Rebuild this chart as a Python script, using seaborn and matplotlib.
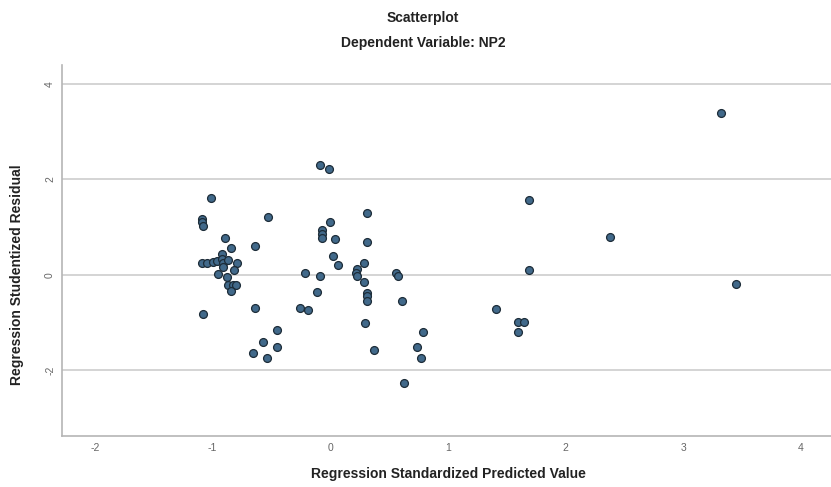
import numpy as np
import pandas as pd
import matplotlib
matplotlib.use("Agg")
import matplotlib.pyplot as plt
import seaborn as sns

# Values (standardized predicted value, studentized residual)
pred = [
    -1.01, -1.09, -1.09, -1.08, -0.89, -0.84, -0.64, -0.92, -1.09, -1.05,
    -1.00, -0.96, -0.92, -0.91, -0.91, -0.87, -0.79, -0.82, -0.95, -0.88,
    -0.87, -0.83, -0.80, -0.84, -1.08, -0.64, -0.45, -0.57, -0.45, -0.66,
    -0.54, -0.26, -0.19, -0.53, -0.21, -0.09, -0.01, 0.31, 0.00, -0.07,
    -0.07, -0.07, 0.045, 0.31, 0.02, 0.07, 0.29, 0.23, 0.22, 0.23,
    -0.085, 0.56, 0.58, 0.29, -0.11, 0.31, 0.31, 0.31, 0.61, 0.30,
    0.79, 0.37, 0.74, 0.77, 0.63, 1.69, 1.69, 1.41, 1.60, 1.65,
    1.60, 2.38, 3.32, 3.45,
]
resid = [
    1.61, 1.17, 1.10, 1.03, 0.78, 0.57, 0.61, 0.43, 0.25, 0.26,
    0.28, 0.30, 0.33, 0.25, 0.17, 0.31, 0.25, 0.10, 0.02, -0.05,
    -0.21, -0.21, -0.21, -0.33, -0.82, -0.69, -1.15, -1.41, -1.52, -1.63,
    -1.74, -0.69, -0.73, 1.21, 0.04, 2.31, 2.22, 1.29, 1.10, 0.94,
    0.86, 0.77, 0.75, 0.69, 0.40, 0.20, 0.24, 0.12, 0.05, -0.02,
    -0.02, 0.05, -0.02, -0.15, -0.36, -0.38, -0.45, -0.54, -0.54, -1.00,
    -1.19, -1.57, -1.52, -1.75, -2.27, 1.57, 0.10, -0.71, -0.99, -0.99,
    -1.19, 0.79, 3.40, -0.18,
]
y_ticks = [-2, 0, 2, 4]
x_ticks = [-2, -1, 0, 1, 2, 3, 4]

df = pd.DataFrame({"pred": pred, "resid": resid})

sns.set_style("white")
plt.rcParams["font.family"] = ["Liberation Sans", "DejaVu Sans"]
plt.rcParams["axes.unicode_minus"] = False

fig = plt.figure(figsize=(8.31, 4.87), dpi=100)
ax = fig.add_axes([0.0746, 0.1047, 0.93, 0.762])

for t in y_ticks:
    ax.axhline(t, color="#d4d4d4", lw=1.4, zorder=0)

sns.scatterplot(data=df, x="pred", y="resid", ax=ax, s=32,
                color="#41698a", edgecolor="#1c2c38", linewidth=0.9, zorder=3)

ax.set_xlim(-2.28, 4.29)
ax.set_ylim(-3.375, 4.40)
ax.set_xticks(x_ticks)
ax.set_yticks(y_ticks)
ax.tick_params(axis="both", length=0, labelsize=7.5, colors="#666666", pad=5)
for lab in ax.get_yticklabels():
    lab.set_rotation(90)
    lab.set_va("center")

for side in ["top", "right"]:
    ax.spines[side].set_visible(False)
for side in ["left", "bottom"]:
    ax.spines[side].set_color("#b5b5b5")
    ax.spines[side].set_linewidth(1.2)

ax.set_xlabel("Regression Standardized Predicted Value", fontsize=10,
              fontweight="bold", color="#222222", labelpad=10)
ax.set_ylabel("Regression Studentized Residual", fontsize=10,
              fontweight="bold", color="#222222", labelpad=10)
# SPSS centres the y title on the zero line rather than on the axis
ax.yaxis.set_label_coords(-0.049, (0 - (-3.375)) / (4.40 + 3.375))

fig.text(0.509, 0.963, "Scatterplot", ha="center", va="center",
         fontsize=10, fontweight="bold", color="#222222")
fig.text(0.509, 0.912, "Dependent Variable: NP2", ha="center", va="center",
         fontsize=10, fontweight="bold", color="#222222")

fig.savefig("out.png", dpi=100)
